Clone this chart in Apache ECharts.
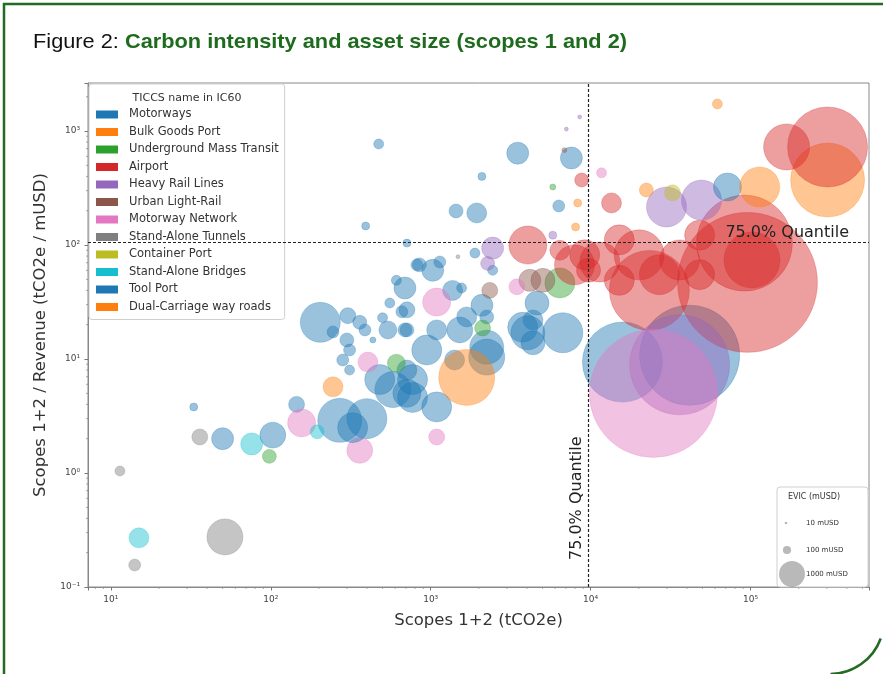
<!DOCTYPE html>
<html lang="en">
<head>
<meta charset="utf-8">
<title>Figure 2: Carbon intensity and asset size</title>
<script src="https://cdn.jsdelivr.net/npm/echarts@6/dist/echarts.min.js"></script>
<style>
  html, body { margin: 0; padding: 0; background: #fff; }
  #chart { width: 883px; height: 674px; }
</style>
</head>
<body>
<div id="chart"></div>
<script>
// legend order (TICCS name in IC60)
var categories = ['Motorways', 'Bulk Goods Port', 'Underground Mass Transit', 'Airport',
  'Heavy Rail Lines', 'Urban Light-Rail', 'Motorway Network', 'Stand-Alone Tunnels',
  'Container Port', 'Stand-Alone Bridges', 'Tool Port', 'Dual-Carriage way roads'];
var colors = ['#1f77b4', '#ff7f0e', '#2ca02c', '#d62728', '#9467bd', '#8c564b',
  '#e377c2', '#7f7f7f', '#bcbd22', '#17becf', '#1f77b4', '#ff7f0e'];

// each point: [scopes 1+2 (tCO2e), scopes 1+2 / revenue (tCO2e/mUSD), EVIC (mUSD)]
var motorways = [
  [33, 3.8, 95], [50, 2.0, 720], [103, 2.15, 1000], [145, 4.0, 380], [204, 21, 2380],
  [303, 24, 380], [360, 21, 290], [388, 18, 214], [245, 17.3, 214], [299, 14.7, 290],
  [311, 12, 214], [282, 9.8, 214], [311, 8, 149], [435, 14.7, 54], [500, 23, 149],
  [540, 18, 480], [660, 26, 214], [710, 18, 290], [850, 67, 290], [1030, 60, 720],
  [1140, 71, 214], [690, 42, 720], [610, 49, 149], [1370, 40, 595], [2090, 29.6, 720],
  [2240, 23.4, 290], [1090, 18, 595], [945, 12, 1340], [710, 8, 595], [480, 6.6, 1340],
  [580, 5.4, 1930], [770, 4.6, 1340], [1090, 3.8, 1340], [2240, 10.4, 1930], [270, 2.9, 2880],
  [399, 3.0, 2380], [710, 27, 380], [690, 18, 290], [1680, 23.4, 595], [1410, 9.8, 595],
  [770, 6.6, 1340], [710, 5.0, 1170], [3760, 19, 1340], [4620, 31, 857], [4360, 22, 595],
  [4050, 17, 1720], [4360, 13.9, 857], [6700, 17, 2380], [2240, 12.7, 1720], [473, 770, 149],
  [3500, 640, 720], [7580, 580, 720], [2090, 400, 95], [6320, 220, 214], [1440, 199, 290],
  [1940, 191, 595], [392, 147, 95], [1890, 85, 149], [2440, 60, 149], [820, 67, 214],
  [15800, 9.4, 9520], [41600, 10.8, 14900]
];
var bulkGoodsPort = [[1680, 6.9, 4660], [303000, 372, 8140], [62000, 1730, 149]];
var underground = [[5800, 323, 54], [6420, 46.5, 1340], [2110, 18.7, 380], [610, 9.2, 480], [98, 1.4, 290]];
var airport = [
  [8790, 372, 290], [4050, 100, 2150], [13500, 234, 595], [168000, 725, 3150], [303000, 725, 9520],
  [91500, 104, 13700], [102000, 74, 4660], [95600, 47, 29100], [23300, 40, 9520], [11400, 71, 2380],
  [20100, 82, 3720], [36000, 74, 2380], [48000, 122, 1340], [15100, 111, 1340], [9180, 82, 1340],
  [7930, 67, 2380], [6420, 90, 595], [26900, 55, 2380], [15100, 49, 1340], [48000, 55, 1340],
  [9700, 60, 857]
];
var heavyRail = [[7050, 1040, 24], [8540, 1330, 24], [5800, 122, 95], [2440, 94, 720], [2270, 69, 290],
  [49300, 248, 2380], [29800, 216, 2380], [36000, 8.9, 14900]];
var lightRail = [[4170, 49, 720], [5030, 49, 857], [2340, 40, 380], [6850, 680, 37]];
var motorwayNetwork = [[1090, 31.6, 1170], [405, 9.4, 595], [156, 2.75, 1170], [360, 1.58, 1000],
  [1090, 2.07, 380], [3460, 43, 380], [11700, 430, 149], [24700, 5.0, 24400]];
var tunnels = [[11.4, 1.04, 149], [14.1, 0.156, 214], [51.7, 0.275, 1930], [36, 2.07, 380], [1480, 79, 24]];
var containerPort = [[32500, 287, 380]];
var bridges = [[15, 0.27, 595], [76, 1.8, 720], [195, 2.3, 290]];
var toolPort = [[555, 31, 149], [1560, 42, 149], [710, 104, 95], [71700, 323, 1170], [325, 2.5, 1340], [1520, 18, 1000]];
var dualCarriage = [[245, 5.7, 595], [8300, 234, 95], [8050, 144, 95], [22300, 304, 290], [114000, 323, 2380]];

var groups = [motorways, bulkGoodsPort, underground, airport, heavyRail, lightRail,
  motorwayNetwork, tunnels, containerPort, bridges, toolPort, dualCarriage];

// 75% quantiles
var quantileX = 9600;
var quantileY = 105;
var evicLegend = [10, 100, 1000];

var font = 'DejaVu Sans';
var sizeK = 0.82; // marker diameter = k * sqrt(EVIC)
function bubble(v) { return sizeK * Math.sqrt(v[2]); }

var sup = { '0': '\u2070', '1': '\u00b9', '2': '\u00b2', '3': '\u00b3', '4': '\u2074', '5': '\u2075', '-': '\u207b' };
function powLabel(v) {
  var l = Math.log10(v);
  var r = Math.round(l);
  if (Math.abs(l - r) > 1e-6) return '';
  return '10' + String(r).split('').map(function (c) { return sup[c]; }).join('');
}

var chart = echarts.init(document.getElementById('chart'));

var series = categories.map(function (name, i) {
  return {
    type: 'scatter',
    name: name,
    data: groups[i],
    symbolSize: bubble,
    itemStyle: { color: colors[i], opacity: 0.45, borderColor: colors[i], borderWidth: 0.6 },
    emphasis: { disabled: true }
  };
});
// quantile lines on top of the bubbles
series.push({
  type: 'scatter',
  data: [],
  markLine: {
    silent: true,
    symbol: 'none',
    animation: false,
    label: { show: false },
    lineStyle: { color: '#222', type: [3, 2], width: 1.2 },
    data: [{ xAxis: quantileX }, { yAxis: quantileY }]
  }
});

var axisCommon = {
  type: 'log',
  logBase: 10,
  nameLocation: 'middle',
  nameTextStyle: { fontFamily: font, fontSize: 16.5, color: '#333' },
  axisLine: { lineStyle: { color: '#888', width: 1 } },
  axisTick: { length: 3.5, lineStyle: { color: '#777' } },
  axisLabel: { fontFamily: font, fontSize: 9, color: '#444', formatter: powLabel },
  splitLine: { show: false }
};

chart.setOption({
  animation: false,
  backgroundColor: '#fff',
  grid: { left: 88, right: 14, top: 83, bottom: 87, show: true, borderColor: '#888', borderWidth: 1 },
  xAxis: Object.assign({}, axisCommon, {
    name: 'Scopes 1+2 (tCO2e)', nameGap: 25, min: 7.2, max: 550000
  }),
  yAxis: Object.assign({}, axisCommon, {
    name: 'Scopes 1+2 / Revenue (tCO2e / mUSD)', nameGap: 38, min: 0.1, max: 2640
  }),
  legend: {
    data: categories,
    orient: 'vertical',
    left: 89, top: 84,
    padding: [24, 6, 6, 7],
    icon: 'rect',
    itemWidth: 22, itemHeight: 8, itemGap: 4.5,
    selectedMode: false,
    itemStyle: { opacity: 1, borderWidth: 0 },
    textStyle: { fontFamily: font, fontSize: 11.5, color: '#333', lineHeight: 13, padding: [0, 0, 0, 6] },
    backgroundColor: 'rgba(255,255,255,0.85)',
    borderColor: '#cfcfcf', borderWidth: 1, borderRadius: 3
  },
  series: series
});

// title: regular black lead-in, bold green caption, condensed to the figure width
var titleFont = 'Liberation Sans';
var ctx = document.createElement('canvas').getContext('2d');
ctx.font = '21px "' + titleFont + '"';
var w1 = ctx.measureText('Figure 2: ').width;
ctx.font = 'bold 21px "' + titleFont + '"';
var w2 = ctx.measureText('Carbon intensity and asset size (scopes 1 and 2)').width;
var titleScale = 594 / (w1 + w2);

var g = [];
var green = '#236b23';
g.push({ type: 'text', x: 33, y: 32, scaleX: titleScale, silent: true, style: {
  text: '{a|Figure 2: }{b|Carbon intensity and asset size (scopes 1 and 2)}',
  verticalAlign: 'top',
  rich: {
    a: { fontFamily: titleFont, fontSize: 21, fill: '#111' },
    b: { fontFamily: titleFont, fontSize: 21, fontWeight: 'bold', fill: '#1e6b1e' }
  }
} });
g.push({ type: 'polyline', silent: true, shape: { points: [[4, 674], [4, 4], [883, 4]] },
  style: { stroke: green, lineWidth: 2.5, fill: null } });
g.push({ type: 'arc', silent: true, shape: { cx: 830, cy: 620, r: 54, startAngle: 0.35, endAngle: 1.56 },
  style: { stroke: green, lineWidth: 2.5, fill: null } });
g.push({ type: 'text', z: 10, x: 187, y: 98, style: { text: 'TICCS name in IC60', fontFamily: font, fontSize: 11,
  fill: '#333', align: 'center', verticalAlign: 'middle' } });

var q = chart.convertToPixel({ gridIndex: 0 }, [quantileX, quantileY]);
var gridRight = 883 - 14, gridBottom = 674 - 87, gridLeft = 88;
g.push({ type: 'text', z: 10, x: gridRight - 20, y: q[1] - 2, style: { text: '75.0% Quantile', fontFamily: font,
  fontSize: 16, fill: '#222', align: 'right', verticalAlign: 'bottom' } });
g.push({ type: 'text', z: 10, x: q[0] - 3, y: gridBottom - 27, rotation: Math.PI / 2, style: { text: '75.0% Quantile',
  fontFamily: font, fontSize: 16, fill: '#222', align: 'left', verticalAlign: 'bottom' } });

// minor log ticks (2..9 per decade)
for (var e = 0; e <= 5; e++) {
  for (var m = 2; m <= 9; m++) {
    var xv = m * Math.pow(10, e);
    if (xv > 7.2 && xv < 550000) {
      var px = chart.convertToPixel({ xAxisIndex: 0 }, xv);
      g.push({ type: 'line', silent: true, shape: { x1: px, y1: gridBottom, x2: px, y2: gridBottom + 2 },
        style: { stroke: '#777', lineWidth: 0.6 } });
    }
  }
}
for (var e2 = -1; e2 <= 3; e2++) {
  for (var m2 = 2; m2 <= 9; m2++) {
    var yv = m2 * Math.pow(10, e2);
    if (yv < 2640) {
      var py = chart.convertToPixel({ yAxisIndex: 0 }, yv);
      g.push({ type: 'line', silent: true, shape: { x1: gridLeft - 2, y1: py, x2: gridLeft, y2: py },
        style: { stroke: '#777', lineWidth: 0.6 } });
    }
  }
}

// EVIC size legend
var bx = 777, by = 487;
g.push({ type: 'rect', z: 10, shape: { x: bx, y: by, width: 91, height: 100, r: 3 },
  style: { fill: 'rgba(255,255,255,0.85)', stroke: '#cfcfcf', lineWidth: 1 } });
g.push({ type: 'text', z: 11, x: bx + 37, y: by + 10, style: { text: 'EVIC (mUSD)', fontFamily: font, fontSize: 8,
  fill: '#333', align: 'center', verticalAlign: 'middle' } });
var rowY = [by + 36, by + 63, by + 87];
var rowX = [bx + 9, bx + 10, bx + 15];
evicLegend.forEach(function (v, i) {
  g.push({ type: 'circle', z: 11, shape: { cx: rowX[i], cy: rowY[i], r: bubble([0, 0, v]) / 2 },
    style: { fill: '#7f7f7f', opacity: 0.55 } });
  g.push({ type: 'text', z: 11, x: bx + 29, y: rowY[i], style: { text: v + ' mUSD', fontFamily: font, fontSize: 7,
    fill: '#333', align: 'left', verticalAlign: 'middle' } });
});

chart.setOption({ graphic: g });
</script>
</body>
</html>
